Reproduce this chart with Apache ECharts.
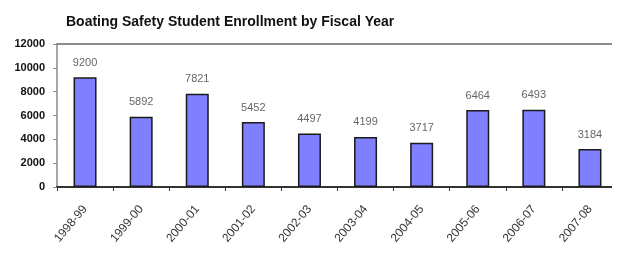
<!DOCTYPE html>
<html>
<head>
<meta charset="utf-8">
<script src="https://cdn.jsdelivr.net/npm/echarts@6/dist/echarts.min.js"></script>
<style>
  html, body { margin: 0; padding: 0; background: #fff; }
  #chart { width: 618px; height: 262px; }
</style>
</head>
<body>
<div id="chart"></div>
<script>
// fiscal years and enrollment counts
var years = ['1998-99', '1999-00', '2000-01', '2001-02', '2002-03', '2003-04', '2004-05', '2005-06', '2006-07', '2007-08'];
var enrollment = [9200, 5892, 7821, 5452, 4497, 4199, 3717, 6464, 6493, 3184];
var yTicks = [0, 2000, 4000, 6000, 8000, 10000, 12000];

var font = '"Liberation Sans", Arial, sans-serif';

var myChart = echarts.init(document.getElementById('chart'));
var option = {
    backgroundColor: '#fff',
    animation: false,
    title: {
        text: 'Boating Safety Student Enrollment by Fiscal Year',
        left: 61,
        top: 10,
        textStyle: { fontFamily: font, fontSize: 14, fontWeight: 'bold', color: '#111' }
    },
    grid: { left: 57, top: 44, width: 570, height: 143 },
    xAxis: [
        {
            type: 'category',
            data: years,
            boundaryGap: true,
            axisLine: { lineStyle: { color: '#333', width: 2 } },
            axisTick: { show: true, length: 4, lineStyle: { color: '#333' } },
            axisLabel: { rotate: 50, margin: 20, interval: 0, fontFamily: font, fontSize: 12, color: '#333' }
        },
        {
            type: 'category',
            data: years,
            position: 'top',
            axisLine: { lineStyle: { color: '#8c8c8c', width: 2 } },
            axisTick: { show: false },
            axisLabel: { show: false }
        }
    ],
    yAxis: {
        type: 'value',
        min: yTicks[0],
        max: yTicks[yTicks.length - 1],
        interval: 2000,
        axisLine: { show: true, lineStyle: { color: '#888', width: 1.5 } },
        axisTick: { show: true, length: 4, lineStyle: { color: '#888' } },
        splitLine: { show: false },
        axisLabel: {
            margin: 12, fontFamily: font, fontSize: 11, fontWeight: 'bold', color: '#111',
            formatter: function (v) { return String(v); }
        }
    },
    series: [
        {
            name: 'Enrollment',
            type: 'bar',
            data: enrollment,
            barWidth: 23,
            itemStyle: { color: '#8080ff', borderColor: '#1a1a1a', borderWidth: 1.5 },
            label: { show: true, position: 'top', distance: 9, fontFamily: font, fontSize: 11, color: '#666' }
        }
    ],
    graphic: [
        // the original picture is cut off at the right edge
        { type: 'rect', shape: { x: 612, y: 0, width: 10, height: 262 }, style: { fill: '#fff' }, z: 100 }
    ]
};
myChart.setOption(option);
</script>
</body>
</html>
